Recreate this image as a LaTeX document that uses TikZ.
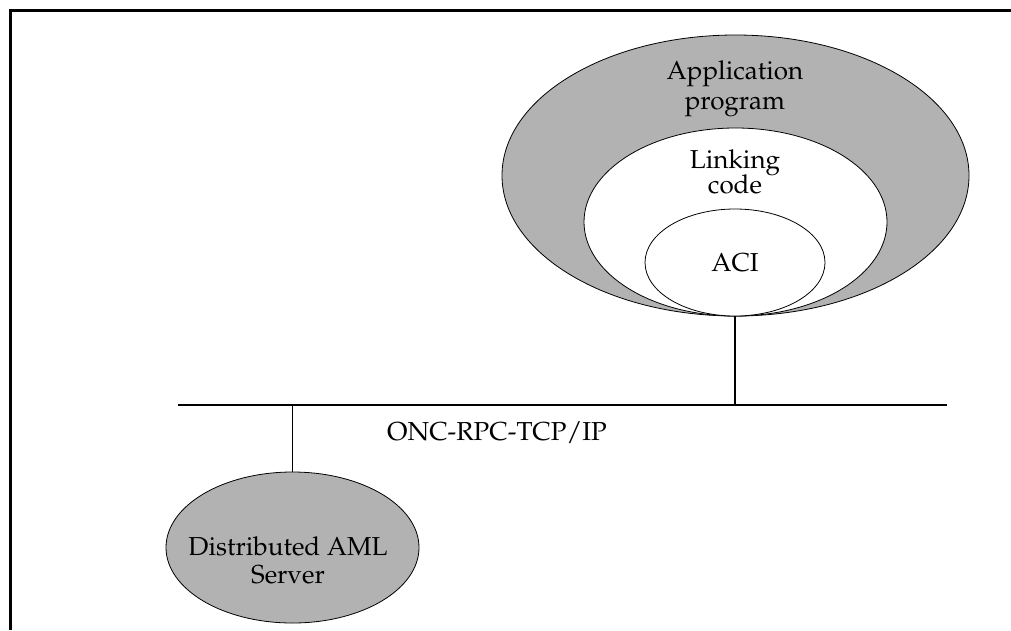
\documentclass[tikz,border=0pt]{standalone}
\usepackage[T1]{fontenc}
\usepackage{mathpazo}
\usepackage{tikz}
\usetikzlibrary{shapes.geometric}
\definecolor{layergray}{gray}{0.7}
\tikzstyle{layer} = [ellipse, draw, line width=0.8pt, inner sep=0pt]
\tikzstyle{caption} = [align=center]

\begin{document}
\begin{tikzpicture}[x=1pt,y=-1pt,line width=1.3pt,font=\fontsize{26}{30}\selectfont]
  \useasboundingbox (0,0) rectangle (1011,630);
  % frame
  \draw[line width=3pt] (10.5,630) -- (10.5,10.5) -- (1011,10.5);

  \node[layer, fill=layergray, minimum width=467pt, minimum height=281pt] (App) at (735.5,175.5) {};
  \node[layer, fill=white, minimum width=303pt, minimum height=188pt] (Link) at (735.5,222) {};
  \node[layer, fill=white, minimum width=180pt, minimum height=107pt] (ACI) at (735,262.5) {ACI};
  \node[caption] (App_Text) at (735,89) {Application\\program};
  \node[caption] (Link_Text) at (735,172) {Linking\\[-5pt]code};

  \coordinate (Bus_L) at (178,405);
  \coordinate (Bus_R) at (947,405);
  \node[anchor=base] (Bus_Text) at (497,440) {ONC-RPC-TCP/IP};

  \node[layer, fill=layergray, minimum width=253pt, minimum height=151pt] (Server) at (292.5,547.5) {};
  \node[caption] (Server_Text) at (288,560) {Distributed AML\\[-2pt]Server};

  \path (Bus_L) edge (Bus_R);
  \path (ACI.south) edge (ACI.south |- Bus_L);
  \path (Server.north) edge (Server.north |- Bus_L);
\end{tikzpicture}
\end{document}
